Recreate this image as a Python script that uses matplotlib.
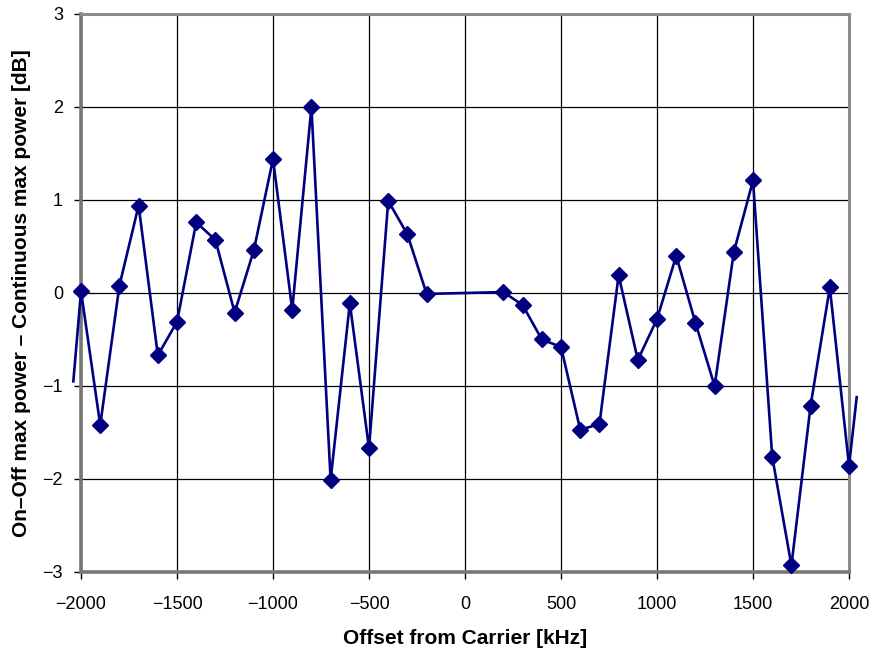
import matplotlib.pyplot as plt

plt.rcParams['font.family'] = ['Liberation Sans', 'DejaVu Sans']

# measured offsets [kHz] and power difference [dB]
offset = [-2000, -1900, -1800, -1700, -1600, -1500, -1400, -1300, -1200, -1100,
          -1000, -900, -800, -700, -600, -500, -400, -300, -200,
          200, 300, 400, 500, 600, 700, 800, 900, 1000, 1100, 1200,
          1300, 1400, 1500, 1600, 1700, 1800, 1900, 2000]
delta = [0.02, -1.42, 0.08, 0.94, -0.67, -0.31, 0.76, 0.57, -0.21, 0.46,
         1.44, -0.18, 2.0, -2.01, -0.11, -1.67, 0.99, 0.63, -0.01,
         0.01, -0.13, -0.50, -0.58, -1.47, -1.41, 0.19, -0.72, -0.28, 0.40, -0.32,
         -1.0, 0.44, 1.21, -1.76, -2.93, -1.21, 0.06, -1.86]

# line runs a little past both edges of the plot
edge_x = [-2040, 2040]
edge_y = [-0.95, -1.12]

navy = '#000080'

fig = plt.figure(figsize=(8.76, 6.57), dpi=100)
ax = fig.add_axes([0.0925, 0.1294, 0.8767, 0.8493])

ax.plot([edge_x[0]] + offset + [edge_x[1]], [edge_y[0]] + delta + [edge_y[1]],
        color=navy, lw=1.9, clip_on=False, zorder=3)
ax.plot(offset, delta, ls='none', marker='D', ms=7.8, color=navy,
        clip_on=False, zorder=4)

ax.set_xlim(-2000, 2000)
ax.set_ylim(-3, 3)
ax.set_xticks(range(-2000, 2001, 500))
ax.set_yticks(range(-3, 4))
ax.grid(True, color='black', lw=0.9)
ax.set_axisbelow(True)

for side in ['top', 'right']:
    ax.spines[side].set_color('#8c8c8c')
    ax.spines[side].set_linewidth(2.2)
for side in ['left', 'bottom']:
    ax.spines[side].set_color('#777777')
    ax.spines[side].set_linewidth(2.6)

ax.tick_params(axis='both', labelsize=13, direction='out', length=5,
               width=1, color='black')
ax.tick_params(axis='x', pad=12)
ax.tick_params(axis='y', pad=8)

ax.set_xlabel('Offset from Carrier [kHz]', fontsize=15, fontweight='bold',
              labelpad=12)
ax.set_ylabel('On\u2013Off max power \u2013 Continuous max power [dB]',
              fontsize=15, fontweight='bold', labelpad=8)

fig.savefig('out.png', dpi=100)
